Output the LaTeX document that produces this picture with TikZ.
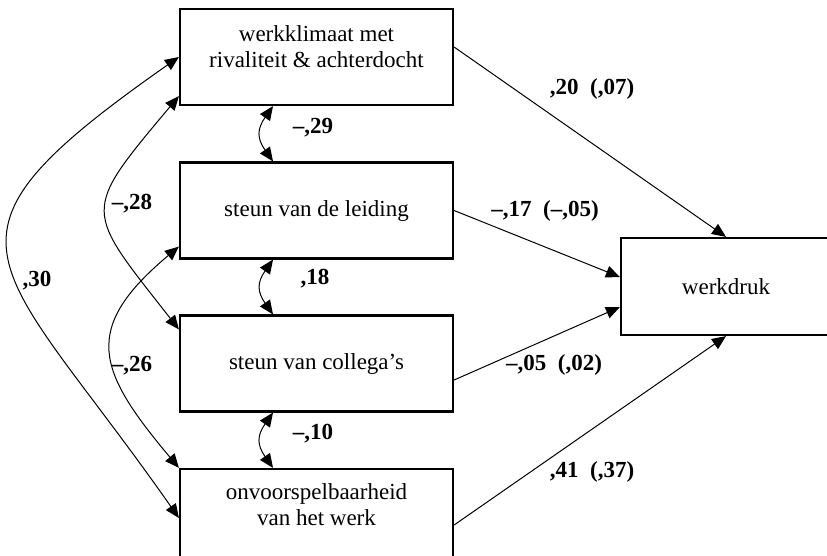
\documentclass[tikz,border=0pt]{standalone}
\usepackage{fontspec}
\setmainfont{Liberation Serif}
\usetikzlibrary{arrows.meta}

\begin{document}
\begin{tikzpicture}[
	x = 1pt, y = -1pt,
	factor/.style = {draw, rectangle, line width=2.2pt, minimum width=273pt, minimum height=96pt},
	caption/.style = {align=center, font=\fontsize{23}{26}\selectfont},
	coef/.style = {font=\fontsize{23}{26}\selectfont\bfseries},
	effect/.style = {-{Triangle[length=14pt, width=12pt]}, line width=1pt},
	cov/.style = {{Triangle[length=14pt, width=12pt]}-{Triangle[length=14pt, width=12pt]}, line width=1pt},
]
\useasboundingbox (0,0) rectangle (827,555);

% Define boxes
\node[factor] (klimaat) at (316.5,57) {};
\node[caption] (klimaat-txt) at ([yshift=10pt]klimaat.center) {werkklimaat met\\rivaliteit \& achterdocht};
\node[factor, caption] (leiding) at (316.5,210.5) {steun van de leiding};
\node[factor, caption] (collega) at (316.5,363.5) {steun van collega's};
\node[factor] (onvoorspel) at (316.5,517) {};
\node[caption] (onvoorspel-txt) at ([yshift=12pt]onvoorspel.center) {onvoorspelbaarheid\\van het werk};
\node[factor, caption, minimum width=210pt, minimum height=97pt] (druk) at (726,286.5) {werkdruk};

% Effects on werkdruk
\draw[effect] ([yshift=10pt]klimaat.east) -- (druk.north);
\draw[effect] (leiding.east) -- ([yshift=9.5pt]druk.west);
\draw[effect] ([yshift=-16.5pt]collega.east) -- ([yshift=-20.5pt]druk.west);
\draw[effect] ([yshift=-8pt]onvoorspel.east) -- (druk.south);

\node[coef] (b-klimaat) at (592,89) {,20~~(,07)};
\node[coef] (b-leiding) at (545,211) {--,17~~(--,05)};
\node[coef] (b-collega) at (554,365) {--,05~~(,02)};
\node[coef] (b-onvoorspel) at (592,472) {,41~~(,37)};

% Correlations
\draw[cov] ([xshift=-43.5pt]klimaat.south) to[out=235, in=125, looseness=1.3] ([xshift=-43.5pt]leiding.north);
\draw[cov] ([xshift=-43.5pt]leiding.south) to[out=235, in=125, looseness=1.3] ([xshift=-43.5pt]collega.north);
\draw[cov] ([xshift=-43.5pt]collega.south) to[out=235, in=125, looseness=1.3] ([xshift=-43.5pt]onvoorspel.north);
\draw[cov] (klimaat.west) to[out=215, in=125, looseness=1.8] ([yshift=-1pt]onvoorspel.west);
\draw[cov] ([yshift=10pt]klimaat.south west) to[out=230, in=128, looseness=1.69] ([yshift=-15pt]collega.north west);
\draw[cov] ([yshift=13pt]leiding.south west) to[out=220, in=130, looseness=1.48] (onvoorspel.north west);

\node[coef] (r-kl) at (313,128) {--,29};
\node[coef] (r-lc) at (315,279) {,18};
\node[coef] (r-co) at (313,434) {--,10};
\node[coef] (r-ko) at (37,281) {,30};
\node[coef] (r-kc) at (132,204) {--,28};
\node[coef] (r-lo) at (132,366) {--,26};
\end{tikzpicture}
\end{document}
